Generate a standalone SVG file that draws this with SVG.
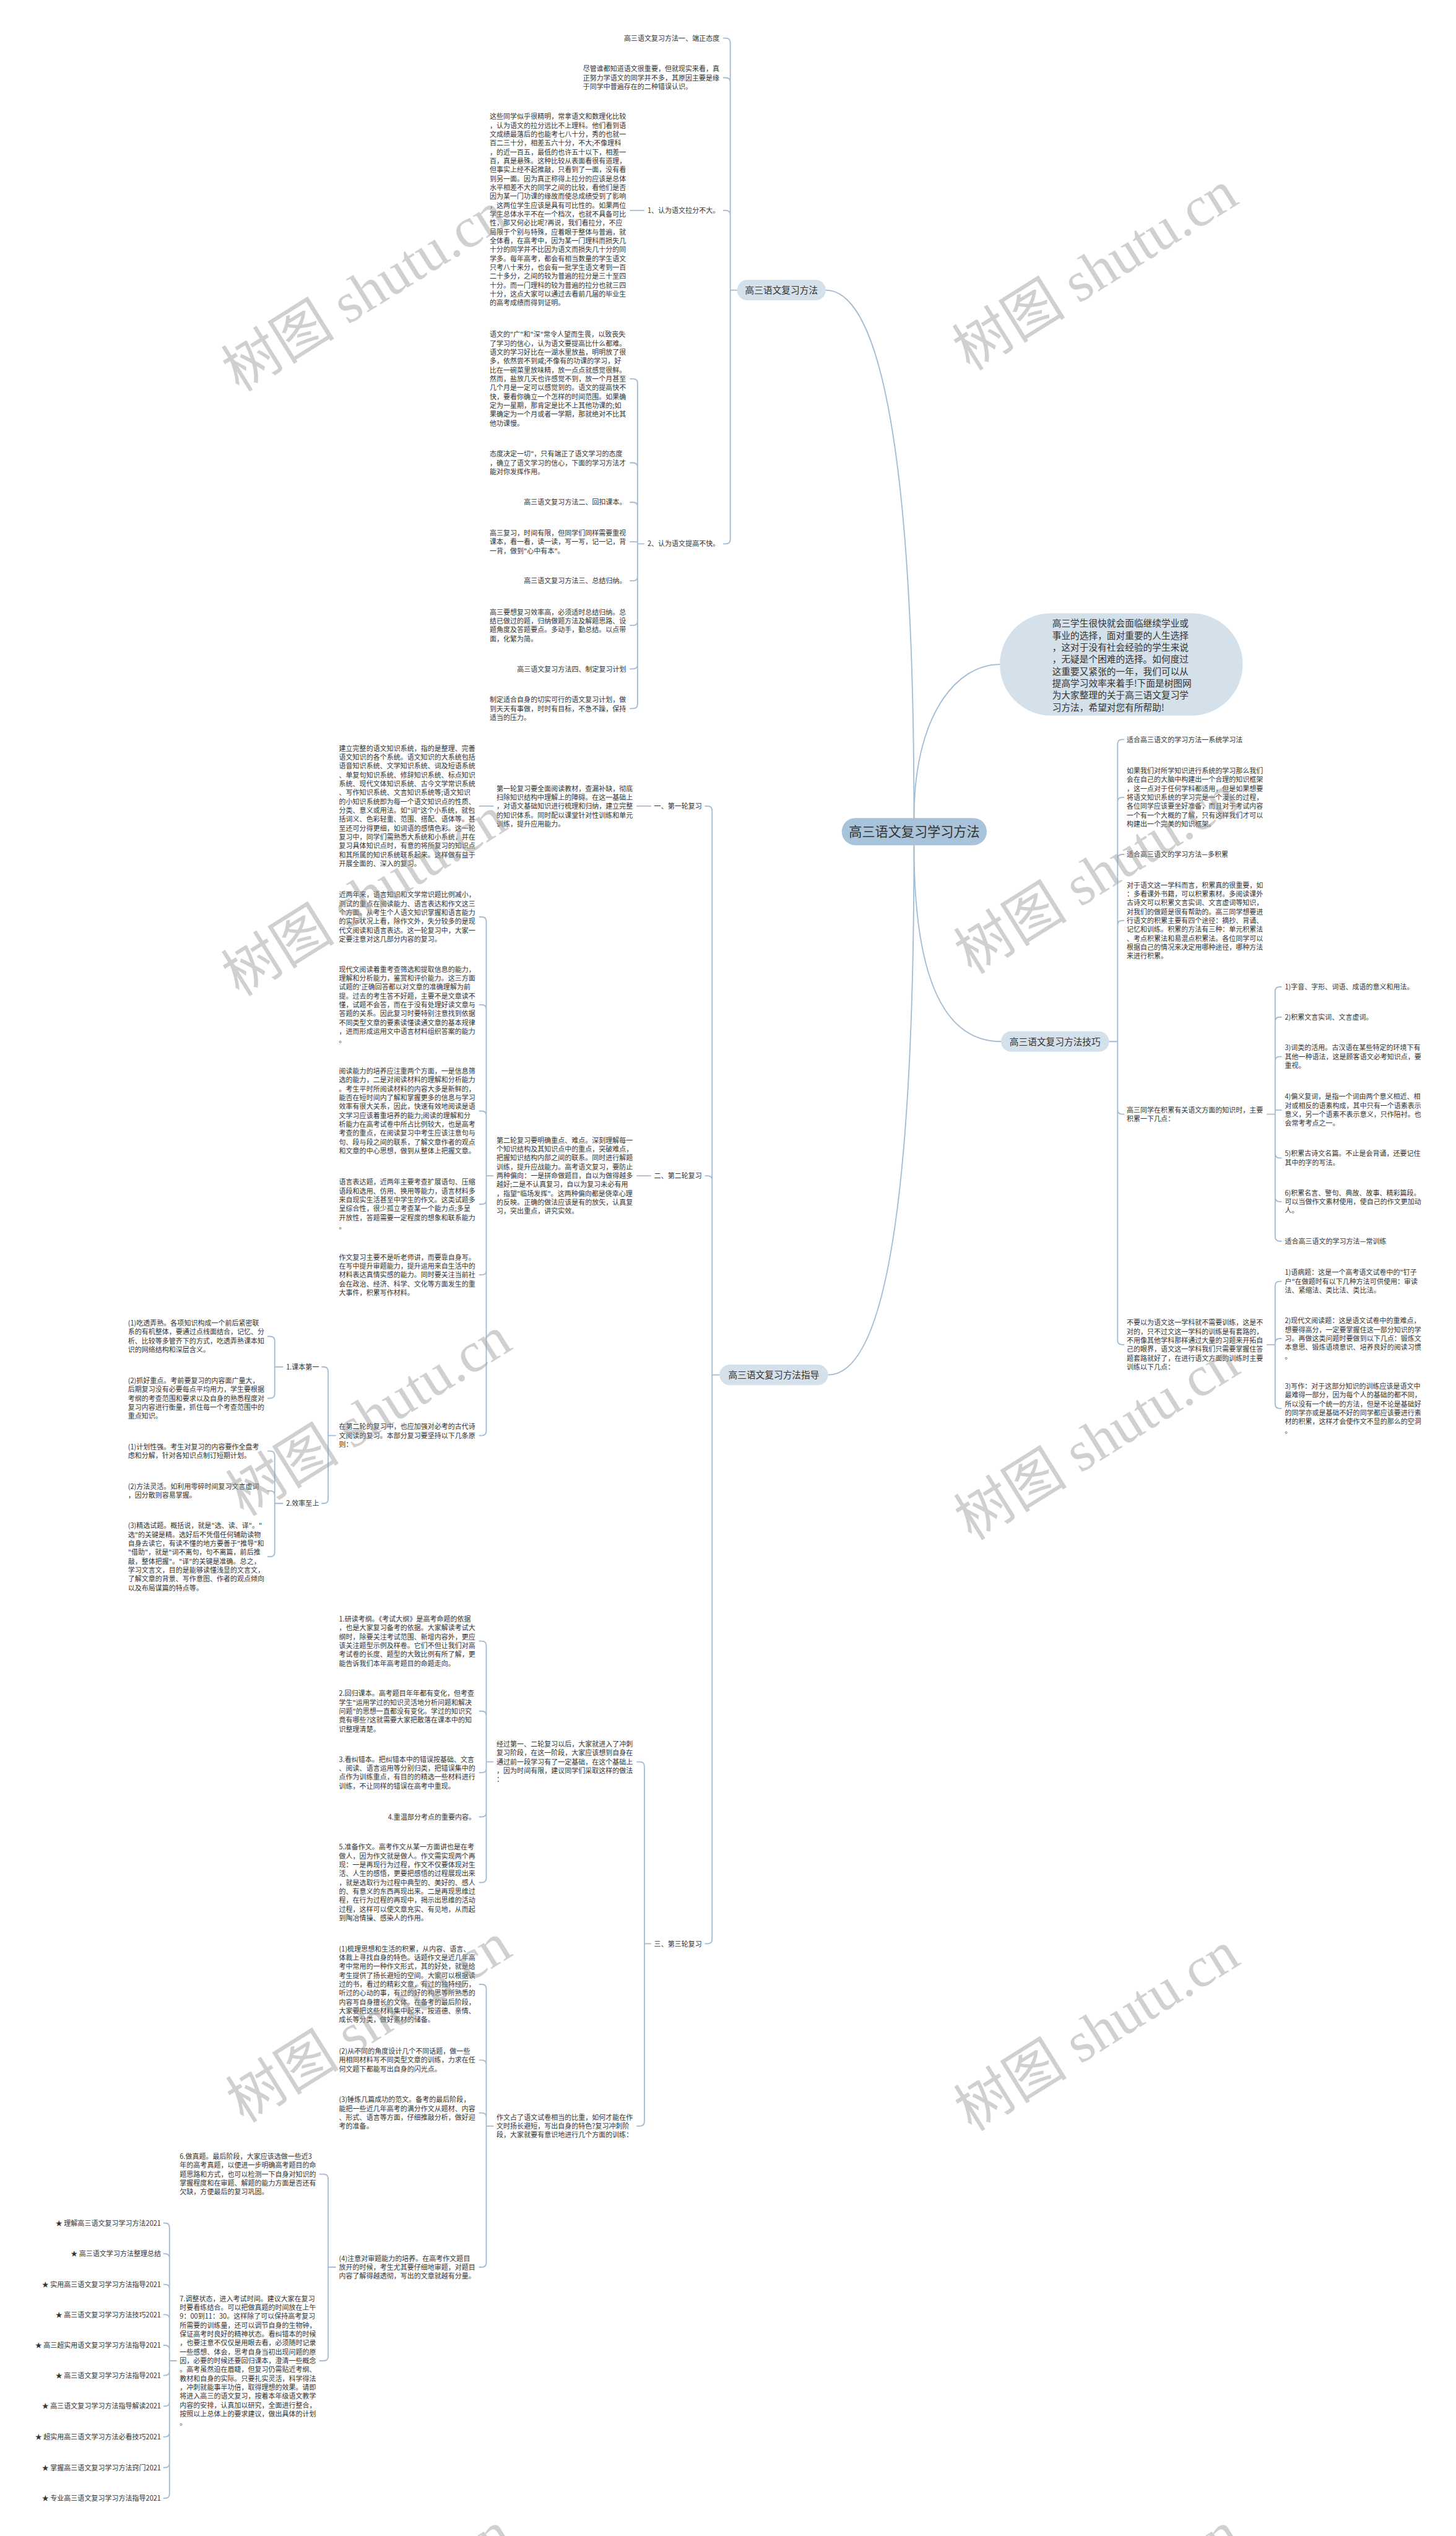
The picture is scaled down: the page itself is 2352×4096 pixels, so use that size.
<svg xmlns="http://www.w3.org/2000/svg" width="2352" height="4096" viewBox="0 0 2352 4096">
<style>
.t{font-family:"Noto Sans CJK SC","Noto Sans",sans-serif;font-size:12px;fill:#333}
.r{text-anchor:end}
.c{fill:none;stroke:#a3bcd4;stroke-width:2;stroke-linecap:round}
.n{fill:#d4e0ea}
.m{fill:#a9c3da}
.nt{font-family:"Noto Sans CJK SC","Noto Sans",sans-serif;font-size:16px;fill:#333;text-anchor:middle}
.it{font-family:"Noto Sans CJK SC","Noto Sans",sans-serif;font-size:16px;fill:#333}
.wm{font-family:"Liberation Serif","Noto Sans CJK SC",serif;font-size:100px;fill:#999;opacity:0.45;text-anchor:middle}
</style>
<rect width="2352" height="4096" fill="#fff"/>
<g transform="scale(0.91875)">
<g id="connectors">
<path class="c" d="M1607 1438C1607 740 1536 510 1452 510"/>
<path class="c" d="M1607 1438C1607 1260 1680 1168 1758 1168"/>
<path class="c" d="M1607 1486C1607 1760 1680 1831 1760 1831"/>
<path class="c" d="M1607 1486C1607 2200 1540 2417 1456 2417"/>
<path class="c" d="M1296 510H1284M1284 510V75Q1284 67 1276 67H1272M1284 510V144.6Q1284 136.6 1276 136.6H1272M1284 510V378Q1284 370 1276 370H1272M1284 510V948Q1284 956 1276 956H1272"/>
<path class="c" d="M1132 370H1108"/>
<path class="c" d="M1132 956H1121M1121 956V674Q1121 666 1113 666H1108M1121 956V821.6Q1121 813.6 1113 813.6H1108M1121 956V891Q1121 883 1113 883H1108M1121 956V952.6H1108M1121 956V1013Q1121 1021 1113 1021H1108M1121 956V1091.4Q1121 1099.4 1113 1099.4H1108M1121 956V1168Q1121 1176 1113 1176H1108M1121 956V1237.6Q1121 1245.6 1113 1245.6H1108"/>
<path class="c" d="M1265 2417H1252M1252 2417V1425Q1252 1417 1244 1417H1240M1252 2417V2075Q1252 2067 1244 2067H1240M1252 2417V3409Q1252 3417 1244 3417H1240"/>
<path class="c" d="M1144 1417H1120M867 1417H843M1144 2067H1120"/>
<path class="c" d="M867 2067H855M855 2067V1620Q855 1612 847 1612H843M855 2067V1774.4Q855 1766.4 847 1766.4H843M855 2067V1961.2Q855 1953.2 847 1953.2H843M855 2067V2109Q855 2117 847 2117H843M855 2067V2233.2Q855 2241.2 847 2241.2H843M855 2067V2515.6Q855 2523.6 847 2523.6H843"/>
<path class="c" d="M590 2523.6H577M577 2523.6V2411Q577 2403 569 2403H566M577 2523.6V2635Q577 2643 569 2643H566"/>
<path class="c" d="M497 2403H483M483 2403V2357.4Q483 2349.4 475 2349.4H471M483 2403V2450.2Q483 2458.2 475 2458.2H471"/>
<path class="c" d="M497 2643H483M483 2643V2558.8Q483 2550.8 475 2550.8H471M483 2643V2628.8Q483 2620.8 475 2620.8H471M483 2643V2728.6Q483 2736.6 475 2736.6H471"/>
<path class="c" d="M1144 3417H1133M1133 3417V3105.2Q1133 3097.2 1125 3097.2H1120M1133 3417V3729.6Q1133 3737.6 1125 3737.6H1120"/>
<path class="c" d="M867 3097.2H855M855 3097.2V2893Q855 2885 847 2885H843M855 3097.2V3016.2Q855 3008.2 847 3008.2H843M855 3097.2V3108.4Q855 3116.4 847 3116.4H843M855 3097.2V3186Q855 3194 847 3194H843M855 3097.2V3301.4Q855 3309.4 847 3309.4H843"/>
<path class="c" d="M867 3737.6H855M855 3737.6V3496.4Q855 3488.4 847 3488.4H843M855 3737.6V3629.6Q855 3621.6 847 3621.6H843M855 3737.6V3722.4Q855 3714.4 847 3714.4H843M855 3737.6V3977.6Q855 3985.6 847 3985.6H843"/>
<path class="c" d="M590 3985.6H577M577 3985.6V3830.2Q577 3822.2 569 3822.2H562M577 3985.6V4142.2Q577 4150.2 569 4150.2H562"/>
<path class="c" d="M310 4150.2H298M298 4150.2V3916Q298 3908 290 3908H288M298 4150.2V3970Q298 3962 290 3962H288M298 4150.2V4024Q298 4016 290 4016H288M298 4150.2V4077Q298 4069 290 4069H288M298 4150.2V4131Q298 4123 290 4123H288M298 4150.2V4168Q298 4176 290 4176H288M298 4150.2V4222Q298 4230 290 4230H288M298 4150.2V4276Q298 4284 290 4284H288M298 4150.2V4330Q298 4338 290 4338H288M298 4150.2V4384Q298 4392 290 4392H288"/>
<path class="c" d="M1950 1831H1965M1965 1831V1308Q1965 1300 1973 1300H1976M1965 1831V1409.8Q1965 1401.8 1973 1401.8H1976M1965 1831V1510Q1965 1502 1973 1502H1976M1965 1831V1626.4Q1965 1618.4 1973 1618.4H1976M1965 1831V1950.8Q1965 1958.8 1973 1958.8H1976M1965 1831V2356Q1965 2364 1973 2364H1976"/>
<path class="c" d="M2228 1958.8H2242M2242 1958.8V1743Q2242 1735 2250 1735H2253M2242 1958.8V1796Q2242 1788 2250 1788H2253M2242 1958.8V1865.6Q2242 1857.6 2250 1857.6H2253M2242 1958.8V1951.4H2253M2242 1958.8V2027.8Q2242 2035.8 2250 2035.8H2253M2242 1958.8V2104.6Q2242 2112.6 2250 2112.6H2253M2242 1958.8V2174Q2242 2182 2250 2182H2253"/>
<path class="c" d="M2228 2364H2242M2242 2364V2260.6Q2242 2252.6 2250 2252.6H2253M2242 2364V2361.2Q2242 2353.2 2250 2353.2H2253M2242 2364V2468Q2242 2476 2250 2476H2253"/>
</g>

<g id="main">
<rect class="m" x="1480" y="1438" width="255" height="48" rx="24"/>
<text x="1607.5" y="1470.5" style="font-family:'Noto Sans CJK SC',sans-serif;font-size:23px;fill:#333;text-anchor:middle">高三语文复习学习方法</text>
</g>
<g id="intro">
<rect class="n" x="1758" y="1078" width="427" height="180" rx="90"/>
<text class="it" y="1102"><tspan x="1850">高三学生很快就会面临继续学业或</tspan><tspan x="1850" dy="21">事业的选择，面对重要的人生选择</tspan><tspan x="1850" dy="21">，这对于没有社会经验的学生来说</tspan><tspan x="1850" dy="21">，无疑是个困难的选择。如何度过</tspan><tspan x="1850" dy="21">这重要又紧张的一年，我们可以从</tspan><tspan x="1850" dy="21">提高学习效率来着手!下面是树图网</tspan><tspan x="1850" dy="21">为大家整理的关于高三语文复习学</tspan><tspan x="1850" dy="21">习方法，希望对您有所帮助!</tspan></text>
</g>

<g id="b-fangfa">
<rect class="n" x="1296" y="492" width="156" height="36" rx="18"/>
<text class="nt" x="1374" y="516">高三语文复习方法</text>
</g>
<g id="a1"><text class="t r" x="1265" y="71.5">高三语文复习方法一、端正态度</text></g>
<g id="a2"><text class="t" y="125.5"><tspan x="1025">尽管谁都知道语文很重要，但就现实来看，真</tspan><tspan x="1025" dy="15.6">正努力学语文的同学并不多，其原因主要是缘</tspan><tspan x="1025" dy="15.6">于同学中普遍存在的二种错误认识。</tspan></text></g>
<g id="a3"><text class="t r" x="1265" y="374.5">1、认为语文拉分不大。</text></g>
<g id="a3p"><text class="t" y="209.5"><tspan x="861">这些同学似乎很精明，常拿语文和数理化比较</tspan><tspan x="861" dy="15.6">，认为语文的拉分远比不上理科。他们看到语</tspan><tspan x="861" dy="15.6">文成绩最落后的也能考七八十分，秀的也就一</tspan><tspan x="861" dy="15.6">百二三十分，相差五六十分，不大;不像理科</tspan><tspan x="861" dy="15.6">，的近一百五，最低的也许五十以下，相差一</tspan><tspan x="861" dy="15.6">百，真是悬殊。这种比较从表面看很有道理，</tspan><tspan x="861" dy="15.6">但事实上经不起推敲，只看到了一面，没有看</tspan><tspan x="861" dy="15.6">到另一面。因为真正称得上拉分的应该是总体</tspan><tspan x="861" dy="15.6">水平相差不大的同学之间的比较，看他们是否</tspan><tspan x="861" dy="15.6">因为某一门功课的缘故而使总成绩受到了影响</tspan><tspan x="861" dy="15.6">，这两位学生应该是具有可比性的。如果两位</tspan><tspan x="861" dy="15.6">学生总体水平不在一个档次，也就不具备可比</tspan><tspan x="861" dy="15.6">性，那又何必比呢?再说，我们看拉分，不应</tspan><tspan x="861" dy="15.6">局限于个别与特殊，应着眼于整体与普遍，就</tspan><tspan x="861" dy="15.6">全体看，在高考中，因为某一门理科而损失几</tspan><tspan x="861" dy="15.6">十分的同学并不比因为语文而损失几十分的同</tspan><tspan x="861" dy="15.6">学多。每年高考，都会有相当数量的学生语文</tspan><tspan x="861" dy="15.6">只考八十来分，也会有一批学生语文考到一百</tspan><tspan x="861" dy="15.6">二十多分，之间的较为普遍的拉分是三十至四</tspan><tspan x="861" dy="15.6">十分。而一门理科的较为普遍的拉分也就三四</tspan><tspan x="861" dy="15.6">十分，这点大家可以通过去看前几届的毕业生</tspan><tspan x="861" dy="15.6">的高考成绩而得到证明。</tspan></text></g>
<g id="a4"><text class="t r" x="1265" y="960.5">2、认为语文提高不快。</text></g>
<g id="a4a"><text class="t" y="592.5"><tspan x="861">语文的"广"和"深"常令人望而生畏，以致丧失</tspan><tspan x="861" dy="15.6">了学习的信心，认为语文要提高比什么都难。</tspan><tspan x="861" dy="15.6">语文的学习好比在一湖水里放盐，明明放了很</tspan><tspan x="861" dy="15.6">多，依然尝不到咸;不像有的功课的学习，好</tspan><tspan x="861" dy="15.6">比在一碗菜里放味精，放一点点就感觉很鲜。</tspan><tspan x="861" dy="15.6">然而，盐放几天也许感觉不到，放一个月甚至</tspan><tspan x="861" dy="15.6">几个月是一定可以感觉到的。语文的提高快不</tspan><tspan x="861" dy="15.6">快，要看你确立一个怎样的时间范围。如果确</tspan><tspan x="861" dy="15.6">定为一星期，那肯定是比不上其他功课的;如</tspan><tspan x="861" dy="15.6">果确定为一个月或者一学期，那就绝对不比其</tspan><tspan x="861" dy="15.6">他功课慢。</tspan></text></g>
<g id="a4b"><text class="t" y="802.5"><tspan x="861">态度决定一切"，只有端正了语文学习的态度</tspan><tspan x="861" dy="15.6">，确立了语文学习的信心，下面的学习方法才</tspan><tspan x="861" dy="15.6">能对你发挥作用。</tspan></text></g>
<g id="a4c"><text class="t r" x="1101" y="887.5">高三语文复习方法二、回扣课本。</text></g>
<g id="a4d"><text class="t" y="941.5"><tspan x="861">高三复习，时间有限，但同学们同样需要重视</tspan><tspan x="861" dy="15.6">课本，看一看，读一读，写一写，记一记，背</tspan><tspan x="861" dy="15.6">一背，做到"心中有本"。</tspan></text></g>
<g id="a4e"><text class="t r" x="1101" y="1025.5">高三语文复习方法三、总结归纳。</text></g>
<g id="a4f"><text class="t" y="1080.5"><tspan x="861">高三要想复习效率高，必须适时总结归纳。总</tspan><tspan x="861" dy="15.6">结已做过的题，归纳做题方法及解题思路、设</tspan><tspan x="861" dy="15.6">题角度及答题要点。多动手，勤总结。以点带</tspan><tspan x="861" dy="15.6">面，化繁为简。</tspan></text></g>
<g id="a4g"><text class="t r" x="1101" y="1180.5">高三语文复习方法四、制定复习计划</text></g>
<g id="a4h"><text class="t" y="1234.5"><tspan x="861">制定适合自身的切实可行的语文复习计划，做</tspan><tspan x="861" dy="15.6">到天天有事做，时时有目标，不急不躁，保持</tspan><tspan x="861" dy="15.6">适当的压力。</tspan></text></g>

<g id="b-jiqiao">
<rect class="n" x="1760" y="1813" width="190" height="36" rx="18"/>
<text class="nt" x="1855" y="1837">高三语文复习方法技巧</text>
</g>
<g id="w1"><text class="t" x="1981" y="1304.5">适合高三语文的学习方法一系统学习法</text></g>
<g id="w2"><text class="t" y="1359.5"><tspan x="1981">如果我们对所学知识进行系统的学习那么我们</tspan><tspan x="1981" dy="15.6">会在自己的大脑中构建出一个合理的知识框架</tspan><tspan x="1981" dy="15.6">，这一点对于任何学科都适用，但是如果想要</tspan><tspan x="1981" dy="15.6">将语文知识系统的学习完是一个漫长的过程，</tspan><tspan x="1981" dy="15.6">各位同学应该要坐好准备，而且对于考试内容</tspan><tspan x="1981" dy="15.6">一个有一个大概的了解，只有这样我们才可以</tspan><tspan x="1981" dy="15.6">构建出一个完美的知识框架。</tspan></text></g>
<g id="w3"><text class="t" x="1981" y="1506.5">适合高三语文的学习方法—多积累</text></g>
<g id="w4"><text class="t" y="1560.5"><tspan x="1981">对于语文这一学科而言，积累真的很重要，如</tspan><tspan x="1981" dy="15.6">：多看课外书籍，可以积累素材。多阅读课外</tspan><tspan x="1981" dy="15.6">古诗文可以积累文言实词、文言虚词等知识，</tspan><tspan x="1981" dy="15.6">对我们的做题是很有帮助的。高三同学想要进</tspan><tspan x="1981" dy="15.6">行语文的积累主要有四个途径：摘抄、背诵、</tspan><tspan x="1981" dy="15.6">记忆和训练。积累的方法有三种：单元积累法</tspan><tspan x="1981" dy="15.6">、考点积累法和易混点积累法。各位同学可以</tspan><tspan x="1981" dy="15.6">根据自己的情况来决定用哪种途径，哪种方法</tspan><tspan x="1981" dy="15.6">来进行积累。</tspan></text></g>
<g id="w5"><text class="t" y="1955.5"><tspan x="1981">高三同学在积累有关语文方面的知识时，主要</tspan><tspan x="1981" dy="15.6">积累一下几点：</tspan></text></g>
<g id="w5a"><text class="t" x="2259" y="1739.5">1)字音、字形、词语、成语的意义和用法。</text></g>
<g id="w5b"><text class="t" x="2259" y="1792.5">2)积累文言实词、文言虚词。</text></g>
<g id="w5c"><text class="t" y="1846.5"><tspan x="2259">3)词类的活用。古汉语在某些特定的环境下有</tspan><tspan x="2259" dy="15.6">其他一种语法，这是顾客语文必考知识点，要</tspan><tspan x="2259" dy="15.6">重视。</tspan></text></g>
<g id="w5d"><text class="t" y="1932.5"><tspan x="2259">4)偏义复词，是指一个词由两个意义相近、相</tspan><tspan x="2259" dy="15.6">对或相反的语素构成，其中只有一个语素表示</tspan><tspan x="2259" dy="15.6">意义，另一个语素不表示意义，只作陪衬。也</tspan><tspan x="2259" dy="15.6">会常考考点之一。</tspan></text></g>
<g id="w5e"><text class="t" y="2032.5"><tspan x="2259">5)积累古诗文名篇。不止是会背诵，还要记住</tspan><tspan x="2259" dy="15.6">其中的字的写法。</tspan></text></g>
<g id="w5f"><text class="t" y="2101.5"><tspan x="2259">6)积累名言、警句、典故、故事、精彩篇段。</tspan><tspan x="2259" dy="15.6">可以当做作文素材使用，使自己的作文更加动</tspan><tspan x="2259" dy="15.6">人。</tspan></text></g>
<g id="w5g"><text class="t" x="2259" y="2186.5">适合高三语文的学习方法—常训练</text></g>
<g id="w6"><text class="t" y="2329.5"><tspan x="1981">不要以为语文这一学科就不需要训练，这是不</tspan><tspan x="1981" dy="15.6">对的，只不过文这一学科的训练是有套路的，</tspan><tspan x="1981" dy="15.6">不用像其他学科那样通过大量的习题来开拓自</tspan><tspan x="1981" dy="15.6">己的眼界，语文这一学科我们只需要掌握住答</tspan><tspan x="1981" dy="15.6">题套路就好了，在进行语文方面的训练时主要</tspan><tspan x="1981" dy="15.6">训练以下几点：</tspan></text></g>
<g id="w6a"><text class="t" y="2241.5"><tspan x="2259">1)语病题：这是一个高考语文试卷中的"钉子</tspan><tspan x="2259" dy="15.6">户"在做题时有以下几种方法可供使用：审读</tspan><tspan x="2259" dy="15.6">法、紧缩法、类比法、类比法。</tspan></text></g>
<g id="w6b"><text class="t" y="2326.5"><tspan x="2259">2)现代文阅读题：这是语文试卷中的重难点，</tspan><tspan x="2259" dy="15.6">想要得高分，一定要掌握住这一部分知识的学</tspan><tspan x="2259" dy="15.6">习。再做这类问题时要做到以下几点：锻炼文</tspan><tspan x="2259" dy="15.6">本意思、锻炼语境意识、培养良好的阅读习惯</tspan><tspan x="2259" dy="15.6">。</tspan></text></g>
<g id="w6c"><text class="t" y="2441.5"><tspan x="2259">3)写作：对于这部分知识的训练应该是语文中</tspan><tspan x="2259" dy="15.6">最难得一部分，因为每个人的基础的都不同，</tspan><tspan x="2259" dy="15.6">所以没有一个统一的方法，但是不论是基础好</tspan><tspan x="2259" dy="15.6">的同学亦或是基础不好的同学都应该要进行素</tspan><tspan x="2259" dy="15.6">材的积累，这样才会使作文不显的那么的空洞</tspan><tspan x="2259" dy="15.6">。</tspan></text></g>

<g id="b-zhidao">
<rect class="n" x="1265" y="2399" width="191" height="36" rx="18"/>
<text class="nt" x="1360.5" y="2423">高三语文复习方法指导</text>
</g>
<g id="r1"><text class="t r" x="1234" y="1421.5">一、第一轮复习</text></g>
<g id="r1a"><text class="t" y="1390.5"><tspan x="873">第一轮复习要全面阅读教材，查漏补缺，彻底</tspan><tspan x="873" dy="15.6">扫除知识结构中理解上的障碍。在这一基础上</tspan><tspan x="873" dy="15.6">，对语文基础知识进行梳理和归纳，建立完整</tspan><tspan x="873" dy="15.6">的知识体系。同时配以课堂针对性训练和单元</tspan><tspan x="873" dy="15.6">训练，提升应用能力。</tspan></text></g>
<g id="r1b"><text class="t" y="1320"><tspan x="596">建立完整的语文知识系统，指的是整理、完善</tspan><tspan x="596" dy="15.6">语文知识的各个系统。语文知识的大系统包括</tspan><tspan x="596" dy="15.6">语音知识系统、文学知识系统、词及短语系统</tspan><tspan x="596" dy="15.6">、单复句知识系统、修辞知识系统、标点知识</tspan><tspan x="596" dy="15.6">系统、现代文体知识系统、古今文学常识系统</tspan><tspan x="596" dy="15.6">、写作知识系统、文言知识系统等;语文知识</tspan><tspan x="596" dy="15.6">的小知识系统即为每一个语文知识点的性质、</tspan><tspan x="596" dy="15.6">分类、意义或用法。如"词"这个小系统，就包</tspan><tspan x="596" dy="15.6">括词义、色彩轻重、范围、搭配、语体等。甚</tspan><tspan x="596" dy="15.6">至还可分得更细，如词语的感情色彩。这一轮</tspan><tspan x="596" dy="15.6">复习中，同学们需熟悉大系统和小系统，并在</tspan><tspan x="596" dy="15.6">复习具体知识点时，有意的将所复习的知识点</tspan><tspan x="596" dy="15.6">和其所属的知识系统联系起来。这样做有益于</tspan><tspan x="596" dy="15.6">开展全面的、深入的复习。</tspan></text></g>
<g id="r2"><text class="t r" x="1234" y="2071.5">二、第二轮复习</text></g>
<g id="r2a"><text class="t" y="2009"><tspan x="873">第二轮复习要明确重点、难点。深刻理解每一</tspan><tspan x="873" dy="15.6">个知识结构及其知识点中的重点，突破难点，</tspan><tspan x="873" dy="15.6">把握知识结构内部之间的联系。同时进行解题</tspan><tspan x="873" dy="15.6">训练，提升应战能力。高考语文复习，要防止</tspan><tspan x="873" dy="15.6">两种偏向：一是拼命做题目，自以为做得越多</tspan><tspan x="873" dy="15.6">越好;二是不认真复习，自以为复习未必有用</tspan><tspan x="873" dy="15.6">，指望"临场发挥"。这两种偏向都是侥幸心理</tspan><tspan x="873" dy="15.6">的反映。正确的做法应该是有的放矢，认真复</tspan><tspan x="873" dy="15.6">习，突出重点，讲究实效。</tspan></text></g>
<g id="s1"><text class="t" y="1577.5"><tspan x="596">近两年来，语言知识和文学常识题比例减小，</tspan><tspan x="596" dy="15.6">测试的重点在阅读能力、语言表达和作文这三</tspan><tspan x="596" dy="15.6">个方面。从考生个人语文知识掌握和语言能力</tspan><tspan x="596" dy="15.6">的实际状况上看，除作文外，失分较多的是现</tspan><tspan x="596" dy="15.6">代文阅读和语言表达。这一轮复习中，大家一</tspan><tspan x="596" dy="15.6">定要注意对这几部分内容的复习。</tspan></text></g>
<g id="s2"><text class="t" y="1708.5"><tspan x="596">现代文阅读着重考查筛选和提取信息的能力，</tspan><tspan x="596" dy="15.6">理解和分析能力，鉴赏和评价能力。这三方面</tspan><tspan x="596" dy="15.6">试题的'正确回答都以对文章的准确理解为前</tspan><tspan x="596" dy="15.6">提。过去的考生答不好题，主要不是文章读不</tspan><tspan x="596" dy="15.6">懂，试题不会答，而在于没有处理好读文章与</tspan><tspan x="596" dy="15.6">答题的关系。因此复习时要特别注意找到依据</tspan><tspan x="596" dy="15.6">不同类型文章的要素读懂读通文章的基本规律</tspan><tspan x="596" dy="15.6">，进而形成运用文中语言材料组织答案的能力</tspan><tspan x="596" dy="15.6">。</tspan></text></g>
<g id="s3"><text class="t" y="1887.5"><tspan x="596">阅读能力的培养应注重两个方面，一是信息筛</tspan><tspan x="596" dy="15.6">选的能力，二是对阅读材料的理解和分析能力</tspan><tspan x="596" dy="15.6">。考生平时所阅读材料的内容大多是新鲜的，</tspan><tspan x="596" dy="15.6">能否在短时间内了解和掌握更多的信息与学习</tspan><tspan x="596" dy="15.6">效率有很大关系，因此，快速有效地阅读是语</tspan><tspan x="596" dy="15.6">文学习应该着重培养的能力;阅读的理解和分</tspan><tspan x="596" dy="15.6">析能力在高考试卷中所占比例较大，也是高考</tspan><tspan x="596" dy="15.6">考查的重点，在阅读复习中考生应该注意句与</tspan><tspan x="596" dy="15.6">句、段与段之间的联系，了解文章作者的观点</tspan><tspan x="596" dy="15.6">和文章的中心思想，做到从整体上把握文章。</tspan></text></g>
<g id="s4"><text class="t" y="2082.5"><tspan x="596">语言表达题，近两年主要考查扩展语句、压缩</tspan><tspan x="596" dy="15.6">语段和选用、仿用、换用等能力，语言材料多</tspan><tspan x="596" dy="15.6">来自现实生活甚至中学生的作文。这类试题多</tspan><tspan x="596" dy="15.6">呈综合性，很少孤立考查某一个能力点;多呈</tspan><tspan x="596" dy="15.6">开放性，答题需要一定程度的想象和联系能力</tspan><tspan x="596" dy="15.6">。</tspan></text></g>
<g id="s5"><text class="t" y="2214.5"><tspan x="596">作文复习主要不是听老师讲，而要靠自身写。</tspan><tspan x="596" dy="15.6">在写中提升审题能力，提升运用来自生活中的</tspan><tspan x="596" dy="15.6">材料表达真情实感的能力。同时要关注当前社</tspan><tspan x="596" dy="15.6">会在政治、经济、科学、文化等方面发生的重</tspan><tspan x="596" dy="15.6">大事件，积累写作材料。</tspan></text></g>
<g id="s6"><text class="t" y="2512.5"><tspan x="596">在第二轮的复习中，也应加强对必考的古代诗</tspan><tspan x="596" dy="15.6">文阅读的复习。本部分复习要坚持以下几条原</tspan><tspan x="596" dy="15.6">则：</tspan></text></g>
<g id="t1"><text class="t r" x="561" y="2407.5">1.课本第一</text></g>
<g id="t1a"><text class="t" y="2330.5"><tspan x="225">(1)吃透弄熟。各项知识构成一个前后紧密联</tspan><tspan x="225" dy="15.6">系的有机整体，要通过点线面结合，记忆、分</tspan><tspan x="225" dy="15.6">析、比较等多管齐下的方式，吃透弄熟课本知</tspan><tspan x="225" dy="15.6">识的网络结构和深层含义。</tspan></text></g>
<g id="t1b"><text class="t" y="2431.5"><tspan x="225">(2)抓好重点。考前要复习的内容面广量大，</tspan><tspan x="225" dy="15.6">后期复习没有必要每点平均用力，学生要根据</tspan><tspan x="225" dy="15.6">考纲的考查范围和要求以及自身的熟悉程度对</tspan><tspan x="225" dy="15.6">复习内容进行衡量，抓住每一个考查范围中的</tspan><tspan x="225" dy="15.6">重点知识。</tspan></text></g>
<g id="t2"><text class="t r" x="561" y="2647.5">2.效率至上</text></g>
<g id="t2a"><text class="t" y="2547.5"><tspan x="225">(1)计划性强。考生对复习的内容要作全盘考</tspan><tspan x="225" dy="15.6">虑和分解，针对各知识点制订短期计划。</tspan></text></g>
<g id="t2b"><text class="t" y="2617.5"><tspan x="225">(2)方法灵活。如利用零碎时间复习文言虚词</tspan><tspan x="225" dy="15.6">，因分散则容易掌握。</tspan></text></g>
<g id="t2c"><text class="t" y="2686.5"><tspan x="225">(3)精选试题。概括说，就是"选、读、译"。"</tspan><tspan x="225" dy="15.6">选"的关键是精。选好后不凭借任何辅助读物</tspan><tspan x="225" dy="15.6">自身去读它，有读不懂的地方要善于"推导"和</tspan><tspan x="225" dy="15.6">"借助"，就是"词不离句，句不离篇，前后推</tspan><tspan x="225" dy="15.6">敲，整体把握"。"译"的关键是准确。总之，</tspan><tspan x="225" dy="15.6">学习文言文，目的是能够读懂浅显的文言文，</tspan><tspan x="225" dy="15.6">了解文章的背景、写作意图、作者的观点倾向</tspan><tspan x="225" dy="15.6">以及布局谋篇的特点等。</tspan></text></g>
<g id="r3"><text class="t r" x="1234" y="3421.5">三、第三轮复习</text></g>
<g id="v1"><text class="t" y="3070.5"><tspan x="873">经过第一、二轮复习以后，大家就进入了冲刺</tspan><tspan x="873" dy="15.6">复习阶段，在这一阶段，大家应该想到自身在</tspan><tspan x="873" dy="15.6">通过前一段学习有了一定基础，在这个基础上</tspan><tspan x="873" dy="15.6">，因为时间有限，建议同学们采取这样的做法</tspan><tspan x="873" dy="15.6">：</tspan></text></g>
<g id="z1"><text class="t" y="2850.5"><tspan x="596">1.研读考纲。《考试大纲》是高考命题的依据</tspan><tspan x="596" dy="15.6">，也是大家复习备考的依据。大家解读考试大</tspan><tspan x="596" dy="15.6">纲时，除要关注考试范围、新增内容外，更应</tspan><tspan x="596" dy="15.6">该关注题型示例及样卷。它们不但让我们对高</tspan><tspan x="596" dy="15.6">考试卷的长度、题型的大致比例有所了解，更</tspan><tspan x="596" dy="15.6">能告诉我们本年高考题目的命题走向。</tspan></text></g>
<g id="z2"><text class="t" y="2981.5"><tspan x="596">2.回归课本。高考题目年年都有变化，但考查</tspan><tspan x="596" dy="15.6">学生"运用学过的知识灵活地分析问题和解决</tspan><tspan x="596" dy="15.6">问题"的思想一直都没有变化。学过的知识究</tspan><tspan x="596" dy="15.6">竟有哪些?这就需要大家把散落在课本中的知</tspan><tspan x="596" dy="15.6">识整理清楚。</tspan></text></g>
<g id="z3"><text class="t" y="3097.5"><tspan x="596">3.看纠错本。把纠错本中的错误按基础、文言</tspan><tspan x="596" dy="15.6">、阅读、语言运用等分别归类，把错误集中的</tspan><tspan x="596" dy="15.6">点作为训练重点，有目的的精选一些材料进行</tspan><tspan x="596" dy="15.6">训练，不让同样的错误在高考中重现。</tspan></text></g>
<g id="z4"><text class="t r" x="836" y="3198.5">4.重温部分考点的重要内容。</text></g>
<g id="z5"><text class="t" y="3251.5"><tspan x="596">5.准备作文。高考作文从某一方面讲也是在考</tspan><tspan x="596" dy="15.6">做人，因为作文就是做人。作文需实现两个再</tspan><tspan x="596" dy="15.6">现：一是再现行为过程，作文不仅要体现对生</tspan><tspan x="596" dy="15.6">活、人生的感悟，更要把感悟的过程展现出来</tspan><tspan x="596" dy="15.6">，就是选取行为过程中典型的、美好的、感人</tspan><tspan x="596" dy="15.6">的、有意义的东西再现出来。二是再现思维过</tspan><tspan x="596" dy="15.6">程，在行为过程的再现中，揭示出思维的活动</tspan><tspan x="596" dy="15.6">过程，这样可以使文章充实、有见地，从而起</tspan><tspan x="596" dy="15.6">到陶冶情操、感染人的作用。</tspan></text></g>
<g id="v2"><text class="t" y="3726.5"><tspan x="873">作文占了语文试卷相当的比重，如何才能在作</tspan><tspan x="873" dy="15.6">文时扬长避短，写出自身的特色?复习冲刺阶</tspan><tspan x="873" dy="15.6">段，大家就要有意识地进行几个方面的训练：</tspan></text></g>
<g id="q1"><text class="t" y="3430.5"><tspan x="596">(1)梳理思想和生活的积累，从内容、语言、</tspan><tspan x="596" dy="15.6">体裁上寻找自身的特色。话题作文是近几年高</tspan><tspan x="596" dy="15.6">考中常用的一种作文形式，其的好处，就是给</tspan><tspan x="596" dy="15.6">考生提供了扬长避短的空间。大家可以根据读</tspan><tspan x="596" dy="15.6">过的书，看过的精彩文章，有过的独特经历，</tspan><tspan x="596" dy="15.6">听过的心动的事，有过的好的构思等所熟悉的</tspan><tspan x="596" dy="15.6">内容写自身擅长的文体。在备考的最后阶段，</tspan><tspan x="596" dy="15.6">大家要把这些材料集中起来，按道德、亲情、</tspan><tspan x="596" dy="15.6">成长等分类，做好素材的储备。</tspan></text></g>
<g id="q2"><text class="t" y="3610.5"><tspan x="596">(2)从不同的角度设计几个不同话题，做一些</tspan><tspan x="596" dy="15.6">用相同材料写不同类型文章的训练，力求在任</tspan><tspan x="596" dy="15.6">何文题下都能写出自身的闪光点。</tspan></text></g>
<g id="q3"><text class="t" y="3695.5"><tspan x="596">(3)锤炼几篇成功的范文。备考的最后阶段，</tspan><tspan x="596" dy="15.6">能把一些近几年高考的满分作文从题材、内容</tspan><tspan x="596" dy="15.6">、形式、语言等方面，仔细推敲分析，做好迎</tspan><tspan x="596" dy="15.6">考的准备。</tspan></text></g>
<g id="q4"><text class="t" y="3974.5"><tspan x="596">(4)注意对审题能力的培养。在高考作文题目</tspan><tspan x="596" dy="15.6">放开的时候，考生尤其要仔细地审题，对题目</tspan><tspan x="596" dy="15.6">内容了解得越透彻，写出的文章就越有分量。</tspan></text></g>
<g id="p6"><text class="t" y="3795.5"><tspan x="316">6.做真题。最后阶段，大家应该选做一些近3</tspan><tspan x="316" dy="15.6">年的高考真题，以便进一步明确高考题目的命</tspan><tspan x="316" dy="15.6">题思路和方式，也可以检测一下自身对知识的</tspan><tspan x="316" dy="15.6">掌握程度和在审题、解题的能力方面是否还有</tspan><tspan x="316" dy="15.6">欠缺，方便最后的复习巩固。</tspan></text></g>
<g id="p7"><text class="t" y="4045.5"><tspan x="316">7.调整状态，进入考试时间。建议大家在复习</tspan><tspan x="316" dy="15.6">时要看练结合。可以把做真题的时间放在上午</tspan><tspan x="316" dy="15.6">9：00到11：30。这样除了可以保持高考复习</tspan><tspan x="316" dy="15.6">所需要的训练量，还可以调节自身的生物钟，</tspan><tspan x="316" dy="15.6">保证高考时良好的精神状态。看纠错本的时候</tspan><tspan x="316" dy="15.6">，也要注意不仅仅是用眼去看，必须随时记录</tspan><tspan x="316" dy="15.6">一些感想、体会，思考自身当初出现问题的原</tspan><tspan x="316" dy="15.6">因，必要的时候还要回归课本，澄清一些概念</tspan><tspan x="316" dy="15.6">。高考虽然迫在眉睫，但复习仍需贴近考纲、</tspan><tspan x="316" dy="15.6">教材和自身的实际。只要扎实灵活，科学得法</tspan><tspan x="316" dy="15.6">，冲刺就能事半功倍，取得理想的效果。请即</tspan><tspan x="316" dy="15.6">将进入高三的语文复习，按着本年级语文教学</tspan><tspan x="316" dy="15.6">内容的安排，认真加以研究，全面进行整合，</tspan><tspan x="316" dy="15.6">按照以上总体上的要求建议，做出具体的计划</tspan><tspan x="316" dy="15.6">。</tspan></text></g>
<g id="links">
<text class="t r" x="283" y="3912.5">★ 理解高三语文复习学习方法2021</text>
<text class="t r" x="283" y="3966.5">★ 高三语文学习方法整理总结</text>
<text class="t r" x="283" y="4020.5">★ 实用高三语文复习学习方法指导2021</text>
<text class="t r" x="283" y="4073.5">★ 高三语文复习学习方法技巧2021</text>
<text class="t r" x="283" y="4127.5">★ 高三超实用语文复习学习方法指导2021</text>
<text class="t r" x="283" y="4180.5">★ 高三语文复习学习方法指导2021</text>
<text class="t r" x="283" y="4234.5">★ 高三语文复习学习方法指导解读2021</text>
<text class="t r" x="283" y="4288.5">★ 超实用高三语文学习方法必看技巧2021</text>
<text class="t r" x="283" y="4342.5">★ 掌握高三语文复习学习方法窍门2021</text>
<text class="t r" x="283" y="4396.5">★ 专业高三语文复习学习方法指导2021</text>
</g>
<g id="watermarks">
<text class="wm" transform="rotate(-32 640 512)" x="640" y="547">树图 shutu.cn</text>
<text class="wm" transform="rotate(-32 1925 475)" x="1925" y="510">树图 shutu.cn</text>
<text class="wm" transform="rotate(-32 640 1575)" x="640" y="1610">树图 shutu.cn</text>
<text class="wm" transform="rotate(-32 1928 1536)" x="1928" y="1571">树图 shutu.cn</text>
<text class="wm" transform="rotate(-32 648 2489)" x="648" y="2524">树图 shutu.cn</text>
<text class="wm" transform="rotate(-32 1928 2531)" x="1928" y="2566">树图 shutu.cn</text>
<text class="wm" transform="rotate(-32 648 3555)" x="648" y="3590">树图 shutu.cn</text>
<text class="wm" transform="rotate(-32 1928 3570)" x="1928" y="3605">树图 shutu.cn</text>
<text class="wm" transform="rotate(-32 648 4590)" x="648" y="4625">树图 shutu.cn</text>
<text class="wm" transform="rotate(-32 1928 4590)" x="1928" y="4625">树图 shutu.cn</text>
</g>
</g>
</svg>
